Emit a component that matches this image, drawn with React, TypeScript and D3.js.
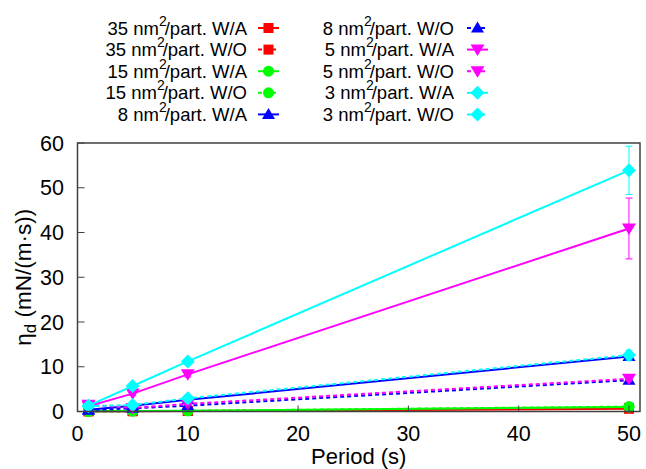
import React from "react";
import * as d3 from "d3";

const periods = [1, 5, 10, 50];
const seriesNames = [
  "35 W/A", "35 W/O", "15 W/A", "15 W/O", "8 W/A",
  "8 W/O", "5 W/A", "5 W/O", "3 W/A", "3 W/O",
];
const areaLabels = ["35", "35", "15", "15", "8", "8", "5", "5", "3", "3"];
const phaseLabels = ["W/A", "W/O", "W/A", "W/O", "W/A", "W/O", "W/A", "W/O", "W/A", "W/O"];
const colors = ["#ff0000", "#ff0000", "#00ff00", "#00ff00", "#0000ff", "#0000ff", "#ff00ff", "#ff00ff", "#00ffff", "#00ffff"];
const markers = ["square", "square", "circle", "circle", "tri-up", "tri-up", "tri-down", "tri-down", "diamond", "diamond"];
const dashed = [false, true, false, true, false, true, false, true, false, true];

const v35WA = [0.05, 0.08, 0.12, 0.6];
const v35WO = [0.05, 0.08, 0.12, 0.8];
const v15WA = [0.05, 0.1, 0.15, 1.0];
const v15WO = [0.05, 0.1, 0.15, 1.1];
const v8WA = [0.4, 1.3, 2.6, 12.3];
const v8WO = [0.3, 0.7, 1.3, 7.0];
const v5WA = [1.2, 4.0, 8.3, 40.9];
const v5WO = [1.5, 0.8, 1.7, 7.3];
const v3WA = [1.3, 5.7, 11.2, 53.9];
const v3WO = [1.2, 1.45, 2.95, 12.6];

const e35WA = [0.02, 0.03, 0.05, 0.3];
const e35WO = [0.02, 0.03, 0.05, 0.3];
const e15WA = [0.02, 0.03, 0.05, 0.3];
const e15WO = [0.02, 0.03, 0.05, 0.3];
const e8WA = [0.1, 0.2, 0.3, 0.8];
const e8WO = [0.1, 0.1, 0.2, 0.5];
const e5WA = [0.2, 0.4, 0.6, 6.8];
const e5WO = [0.2, 0.1, 0.2, 0.5];
const e3WA = [0.2, 0.4, 0.6, 5.4];
const e3WO = [0.1, 0.2, 0.3, 1.1];

const values = [v35WA, v35WO, v15WA, v15WO, v8WA, v8WO, v5WA, v5WO, v3WA, v3WO];
const errors = [e35WA, e35WO, e15WA, e15WO, e8WA, e8WO, e5WA, e5WO, e3WA, e3WO];

const xTicks = [0, 10, 20, 30, 40, 50];
const yTicks = [0, 10, 20, 30, 40, 50, 60];

const W = 646;
const H = 469;
const left = 77.5, right = 640, top = 143, bottom = 411.5;
const FONT = "'Liberation Sans', Arial, Helvetica, sans-serif";

function Marker({ kind, x, y, color }: { kind: string; x: number; y: number; color: string }) {
  if (kind === "square") return <rect x={x - 5} y={y - 5} width={10} height={10} fill={color} />;
  if (kind === "circle") return <circle cx={x} cy={y} r={5.5} fill={color} />;
  if (kind === "tri-up") return <path d={`M${x},${y - 6.5}L${x + 6.5},${y + 4.5}L${x - 6.5},${y + 4.5}Z`} fill={color} />;
  if (kind === "tri-down") return <path d={`M${x},${y + 6.5}L${x + 7},${y - 5}L${x - 7},${y - 5}Z`} fill={color} />;
  return <path d={`M${x},${y - 7}L${x + 7},${y}L${x},${y + 7}L${x - 7},${y}Z`} fill={color} />;
}

export default function App() {
  const x = d3.scaleLinear().domain([0, 51]).range([left, right]);
  const y = d3.scaleLinear().domain([0, 60]).range([bottom, top]);
  const line = d3.line<[number, number]>().x((d) => x(d[0])).y((d) => y(d[1]));

  const legendRows = [28, 49.6, 71.2, 92.8, 114.4];
  return (
    <svg width={W} height={H} style={{ position: "absolute", left: 0, top: 0, background: "#fff" }} fontFamily={FONT}>
      <rect width={W} height={H} fill="#fff" />
      {seriesNames.map((name, i) => {
        const pts = periods.map((p, j) => [p, values[i][j]] as [number, number]);
        return (
          <g key={name}>
            <path d={line(pts) || ""} fill="none" stroke={colors[i]} strokeWidth={2} strokeDasharray={dashed[i] ? "4,3" : undefined} />
            {pts.map((p, j) => {
              const e = errors[i][j];
              const cx = x(p[0]);
              return (
                <g key={j}>
                  <line x1={cx} x2={cx} y1={y(p[1] - e)} y2={y(p[1] + e)} stroke={colors[i]} strokeWidth={1} />
                  <line x1={cx - 3.5} x2={cx + 3.5} y1={y(p[1] - e)} y2={y(p[1] - e)} stroke={colors[i]} strokeWidth={1} />
                  <line x1={cx - 3.5} x2={cx + 3.5} y1={y(p[1] + e)} y2={y(p[1] + e)} stroke={colors[i]} strokeWidth={1} />
                  <Marker kind={markers[i]} x={cx} y={y(p[1])} color={colors[i]} />
                </g>
              );
            })}
          </g>
        );
      })}
      <rect x={left} y={top} width={right - left} height={bottom - top} fill="none" stroke="#404040" strokeWidth={1.5} />
      {yTicks.map((t) => (
        <g key={"y" + t}>
          <line x1={left} x2={left + 7} y1={y(t)} y2={y(t)} stroke="#404040" strokeWidth={1} />
          <text x={64} y={y(t)} dy="0.36em" textAnchor="end" fontSize={21.5} fill="#000">{t}</text>
        </g>
      ))}
      {xTicks.map((t) => (
        <g key={"x" + t}>
          <line x1={x(t)} x2={x(t)} y1={bottom} y2={bottom - 6} stroke="#404040" strokeWidth={1} />
          <text x={x(t)} y={441} textAnchor="middle" fontSize={21.5} fill="#000">{t}</text>
        </g>
      ))}
      <text x={(left + right) / 2} y={464} textAnchor="middle" fontSize={22} fill="#000">Period (s)</text>
      <text transform={`translate(31,${(top + bottom) / 2}) rotate(-90)`} textAnchor="middle" fontSize={22.5} fill="#000">
        η<tspan fontSize={17} dy={5}>d</tspan><tspan dy={-5}> (mN/(m·s))</tspan>
      </text>
      {seriesNames.map((name, i) => {
        const col = i < 5 ? 0 : 1;
        const row = i % 5;
        const ty = legendRows[row];
        const textEnd = col === 0 ? 247 : 454;
        const x1 = col === 0 ? 258 : 467;
        const x2 = col === 0 ? 279 : 488;
        return (
          <g key={"l" + name}>
            <text x={textEnd} y={ty + 6.5} textAnchor="end" fontSize={18.5} fill="#000">
              {areaLabels[i]} nm<tspan fontSize={14} dy={-9}>2</tspan><tspan dy={9} dx={-2}>/part. {phaseLabels[i]}</tspan>
            </text>
            <line x1={x1} x2={x2} y1={ty} y2={ty} stroke={colors[i]} strokeWidth={2} strokeDasharray={dashed[i] ? "4,3" : undefined} />
            <Marker kind={markers[i]} x={(x1 + x2) / 2} y={ty} color={colors[i]} />
          </g>
        );
      })}
    </svg>
  );
}
